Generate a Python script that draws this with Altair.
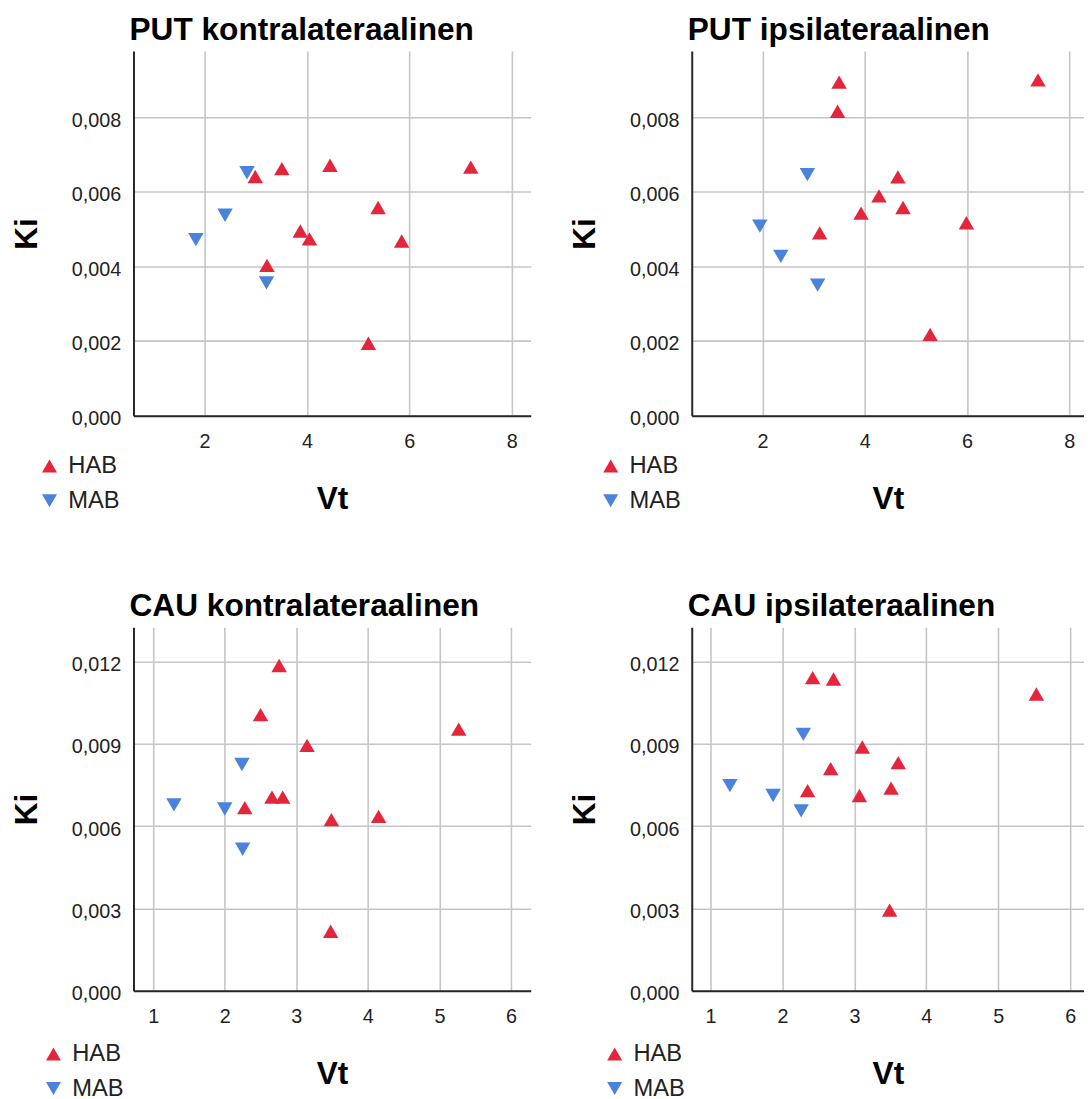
import altair as alt
import pandas as pd

GROUPS = ["HAB", "MAB"]
COLORS = ["#e4263d", "#4a82dc"]
SHAPES = ["triangle-up", "triangle-down"]

# PUT kontralateraalinen
put_k_group = ["MAB", "HAB", "HAB", "HAB", "HAB", "MAB", "MAB", "HAB", "HAB", "HAB", "HAB", "HAB", "MAB", "HAB"]
put_k_vt = [2.83, 2.99, 3.51, 4.45, 7.20, 2.40, 1.83, 5.39, 3.87, 4.05, 5.85, 3.22, 3.21, 5.20]
put_k_ki = [0.00651, 0.00641, 0.00662, 0.00671, 0.00666, 0.00537, 0.00472, 0.00558, 0.00495, 0.00474, 0.00468, 0.00403, 0.00356, 0.00194]

# PUT ipsilateraalinen
put_i_group = ["HAB", "HAB", "HAB", "MAB", "HAB", "HAB", "HAB", "HAB", "HAB", "MAB", "HAB", "MAB", "MAB", "HAB"]
put_i_vt = [3.50, 7.39, 3.47, 2.88, 4.65, 4.28, 4.75, 3.93, 5.99, 1.95, 3.12, 2.36, 3.08, 5.28]
put_i_ki = [0.00894, 0.00900, 0.00816, 0.00646, 0.00640, 0.00589, 0.00558, 0.00543, 0.00517, 0.00508, 0.00490, 0.00427, 0.00350, 0.00218]

# CAU kontralateraalinen
cau_k_group = ["HAB", "HAB", "HAB", "HAB", "MAB", "HAB", "HAB", "MAB", "MAB", "HAB", "HAB", "HAB", "MAB", "HAB"]
cau_k_vt = [2.76, 2.50, 5.27, 3.15, 2.24, 2.66, 2.81, 1.29, 2.00, 2.28, 3.49, 4.15, 2.25, 3.48]
cau_k_ki = [0.01186, 0.01007, 0.00954, 0.00895, 0.00825, 0.00706, 0.00706, 0.00678, 0.00663, 0.00668, 0.00624, 0.00636, 0.00516, 0.00217]

# CAU ipsilateraalinen
cau_i_group = ["HAB", "HAB", "HAB", "MAB", "HAB", "HAB", "HAB", "MAB", "HAB", "HAB", "MAB", "HAB", "MAB", "HAB"]
cau_i_vt = [2.42, 2.71, 5.53, 2.29, 3.11, 3.61, 2.67, 1.27, 2.35, 3.51, 1.87, 3.07, 2.26, 3.49]
cau_i_ki = [0.01142, 0.01137, 0.01082, 0.00935, 0.00889, 0.00832, 0.00810, 0.00748, 0.00730, 0.00739, 0.00712, 0.00712, 0.00656, 0.00294]

PUT_X_TICKS = [2, 4, 6, 8]
PUT_Y_TICKS = [0.0, 0.002, 0.004, 0.006, 0.008]
CAU_X_TICKS = [1, 2, 3, 4, 5, 6]
CAU_Y_TICKS = [0.0, 0.003, 0.006, 0.009, 0.012]

FONT = "Liberation Sans"
TITLE_SIZE = 32
RIGHT_W = 397


def panel(title, vt, ki, grp, xdom, xticks, ydom, yticks, w, h, lx, ly):
    df = pd.DataFrame({"Vt": vt, "Ki": ki, "Ryhma": grp})
    df["ord"] = df["Ryhma"].map({"MAB": 0, "HAB": 1})
    df = df.sort_values("ord", kind="stable").reset_index(drop=True)
    leg = alt.Legend(title=None, orient="none", legendX=lx, legendY=ly)
    return (
        alt.Chart(df, title=alt.Title(title, anchor="start", frame="group", dx=-4,
                                      baseline="alphabetic", offset=11 - TITLE_SIZE))
        .mark_point(filled=True, size=245, opacity=1)
        .encode(
            x=alt.X("Vt:Q", title="Vt",
                    scale=alt.Scale(domain=xdom, nice=False, zero=False),
                    axis=alt.Axis(values=xticks, format="d")),
            y=alt.Y("Ki:Q", title="Ki",
                    scale=alt.Scale(domain=ydom, nice=False, zero=False),
                    axis=alt.Axis(values=yticks,
                                  labelExpr="replace(format(datum.value, '.3f'), '.', ',')")),
            color=alt.Color("Ryhma:N", scale=alt.Scale(domain=GROUPS, range=COLORS), legend=leg),
            shape=alt.Shape("Ryhma:N", scale=alt.Scale(domain=GROUPS, range=SHAPES), legend=leg),
            order=alt.Order("ord:Q"),
        )
        .properties(width=w, height=h)
    )


p1 = panel("PUT kontralateraalinen", put_k_vt, put_k_ki, put_k_group,
           [0.612, 8.37], PUT_X_TICKS, [0, 0.00977], PUT_Y_TICKS, 402, 369, -97, 408)
p2 = panel("PUT ipsilateraalinen", put_i_vt, put_i_ki, put_i_group,
           [0.618, 0.618 + RIGHT_W / 51.75], PUT_X_TICKS, [0, 0.00977], PUT_Y_TICKS, RIGHT_W, 369, -94, 408)
p3 = panel("CAU kontralateraalinen", cau_k_vt, cau_k_ki, cau_k_group,
           [0.724, 6.276], CAU_X_TICKS, [0, 0.01326], CAU_Y_TICKS, 402, 368, -93, 420)
p4 = panel("CAU ipsilateraalinen", cau_i_vt, cau_i_ki, cau_i_group,
           [0.739, 0.739 + RIGHT_W / 72.8], CAU_X_TICKS, [0, 0.01326], CAU_Y_TICKS, RIGHT_W, 368, -90, 420)

chart = (
    alt.concat(p1, p2, p3, p4, columns=2, spacing={"row": 214, "column": 163}, bounds="flush")
    .resolve_scale(x="independent", y="independent", color="independent", shape="independent")
    .resolve_legend(color="independent", shape="independent")
    .properties(padding={"left": 2, "top": 0, "right": 0, "bottom": 0})
    .configure_view(stroke=None)
    .configure_axis(
        domainColor="#262626", domainWidth=2,
        gridColor="#c6c6c6", gridWidth=1.6,
        ticks=False, tickSize=0,
        labelFont=FONT, labelFontSize=20, labelColor="#222222",
        titleFont=FONT, titleFontSize=32, titleFontWeight="bold", titleColor="#000000",
    )
    .configure_axisX(labelPadding=16, titlePadding=33)
    .configure_axisY(labelPadding=13, titlePadding=28, labelOffset=3)
    .configure_title(font=FONT, fontSize=TITLE_SIZE, fontWeight="bold", color="#000000")
    .configure_legend(
        padding=0, labelFont=FONT, labelFontSize=24, labelColor="#222222",
        symbolSize=230, labelOffset=7, rowPadding=11, symbolStrokeWidth=0,
    )
)

chart.save("out.html", embed_options={"renderer": "svg", "actions": False})
